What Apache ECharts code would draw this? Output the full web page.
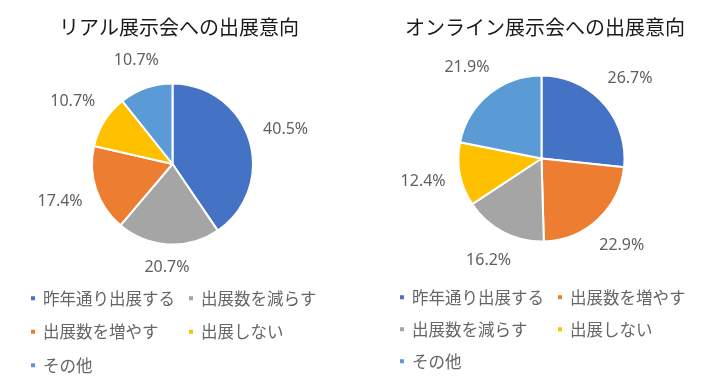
<!DOCTYPE html>
<html><head><meta charset="utf-8">
<script src="https://cdn.jsdelivr.net/npm/echarts@6/dist/echarts.min.js"></script>
<style>html,body{margin:0;padding:0;background:#fff}#c{width:712px;height:386px}</style>
</head><body><div id="c"></div>
<script>
const titles = ['リアル展示会への出展意向', 'オンライン展示会への出展意向'];
const realNames = ['昨年通り出展する', '出展数を減らす', '出展数を増やす', '出展しない', 'その他'];
const realValues = [40.5, 20.7, 17.4, 10.7, 10.7];
const onlineNames = ['昨年通り出展する', '出展数を増やす', '出展数を減らす', '出展しない', 'その他'];
const onlineValues = [26.7, 22.9, 16.2, 12.4, 21.9];
const realLegendCols = [['昨年通り出展する', '出展数を増やす', 'その他'], ['出展数を減らす', '出展しない']];
const onlineLegendCols = [['昨年通り出展する', '出展数を減らす', 'その他'], ['出展数を増やす', '出展しない']];

const colorMap = {
  '昨年通り出展する': '#4472C4',
  '出展数を増やす': '#ED7D31',
  '出展数を減らす': '#A5A5A5',
  '出展しない': '#FFC000',
  'その他': '#5B9BD5'
};
const CJK = '"Noto Sans CJK JP", "Noto Sans", sans-serif';
const pies = [
  { names: realNames, values: realValues, center: [172.5, 164], radius: 80.5, titleLeft: 54, legendLeft: [24, 182], legendTop: 285, legendGap: 17 },
  { names: onlineNames, values: onlineValues, center: [541.5, 158.5], radius: 83, titleLeft: 400, legendLeft: [393, 551], legendTop: 284, legendGap: 15.5 }
];
const legendCols = [realLegendCols, onlineLegendCols];
const GAP = 14;

function makeLabelLayout(cfg) {
  return function (p) {
    const vals = cfg.values;
    const total = vals.reduce((a, b) => a + b, 0);
    let cum = 0;
    for (let i = 0; i < p.dataIndex; i++) cum += vals[i];
    const mid = (cum + vals[p.dataIndex] / 2) / total * Math.PI * 2;
    const sx = Math.sin(mid), sy = -Math.cos(mid);
    const w = p.labelRect.width, h = p.labelRect.height;
    const d = cfg.radius + GAP + Math.abs(sx) * w / 2 + Math.abs(sy) * h / 2;
    return { x: cfg.center[0] + sx * d, y: cfg.center[1] + sy * d, align: 'center', verticalAlign: 'middle' };
  };
}

const title = pies.map((cfg, i) => ({
  text: titles[i], left: cfg.titleLeft, top: 12,
  textStyle: { fontFamily: CJK, fontSize: 20, fontWeight: 'normal', color: '#1a1a1a' }
}));

const legend = [];
pies.forEach((cfg, i) => {
  legendCols[i].forEach((col, j) => {
    legend.push({
      orient: 'vertical', left: cfg.legendLeft[j], top: cfg.legendTop,
      data: col, icon: 'rect', itemWidth: 6, itemHeight: 6, itemGap: cfg.legendGap,
      selectedMode: false,
      textStyle: { fontFamily: CJK, fontSize: 16.5, color: '#666666', padding: [0, 0, 0, 2] }
    });
  });
});

const series = pies.map(cfg => ({
  type: 'pie',
  center: cfg.center,
  radius: cfg.radius,
  startAngle: 90,
  clockwise: true,
  avoidLabelOverlap: false,
  data: cfg.names.map((n, k) => ({ name: n, value: cfg.values[k], itemStyle: { color: colorMap[n] } })),
  itemStyle: { borderColor: '#fff', borderWidth: 2 },
  label: {
    show: true, position: 'outside',
    formatter: p => p.value.toFixed(1) + '%',
    fontFamily: '"Noto Sans", sans-serif', fontSize: 16, color: '#5f5f5f'
  },
  labelLine: { show: false },
  labelLayout: makeLabelLayout(cfg),
  emphasis: { disabled: true }
}));

const chart = echarts.init(document.getElementById('c'), null, { renderer: 'canvas' });
chart.setOption({ animation: false, backgroundColor: '#fff', title, legend, series });
</script>
</body></html>
